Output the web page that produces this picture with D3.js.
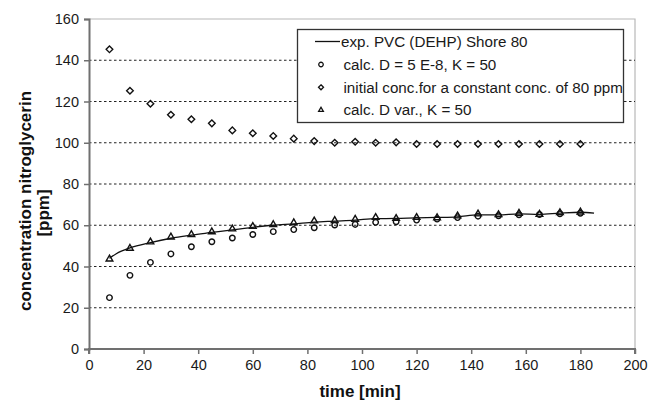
<!DOCTYPE html>
<html>
<head>
<meta charset="utf-8">
<script src="https://cdn.jsdelivr.net/npm/d3@7"></script>
<style>
  html, body { margin: 0; padding: 0; background: #fff; }
  svg { display: block; font-family: "Liberation Sans", Arial, sans-serif; }
</style>
</head>
<body>
<svg id="chart" width="651" height="401"></svg>
<script>
// ---- data ----
const times = [7.5, 15, 22.5, 30, 37.5, 45, 52.5, 60, 67.5, 75, 82.5, 90, 97.5, 105, 112.5, 120, 127.5, 135, 142.5, 150, 157.5, 165, 172.5, 180];
const calcConstD = [24.9, 35.7, 42.0, 46.1, 49.6, 52.0, 53.8, 55.5, 56.9, 57.9, 58.8, 60.1, 60.4, 61.4, 61.7, 62.5, 63.0, 63.7, 64.4, 64.6, 65.1, 65.2, 65.6, 65.8];
const initialConc = [145.3, 125.2, 118.9, 113.6, 111.4, 109.4, 106.0, 104.6, 103.3, 102.0, 100.8, 100.0, 100.5, 100.0, 100.2, 99.4, 99.4, 99.4, 99.4, 99.4, 99.4, 99.4, 99.4, 99.4];
const calcVarD = [43.6, 48.8, 51.9, 54.3, 55.5, 56.8, 58.2, 59.4, 60.3, 61.2, 62.1, 62.3, 62.9, 63.8, 63.3, 63.8, 63.6, 64.5, 65.5, 65.1, 65.8, 65.3, 66.1, 66.4];
const expTimes = [7.5, 10, 15, 22.5, 30, 37.5, 45, 52.5, 60, 67.5, 75, 82.5, 90, 97.5, 105, 112.5, 120, 127.5, 135, 142.5, 150, 157.5, 165, 172.5, 180, 185];
const expValues = [44.0, 46.2, 49.0, 51.6, 53.7, 55.2, 56.5, 57.8, 59.0, 60.0, 60.7, 61.5, 62.0, 62.5, 63.2, 63.3, 63.6, 63.8, 64.1, 65.0, 65.0, 65.5, 65.3, 65.9, 66.3, 65.9];
const xTicks = [0, 20, 40, 60, 80, 100, 120, 140, 160, 180, 200];
const yTicks = [0, 20, 40, 60, 80, 100, 120, 140, 160];
const gridValues = [20, 40, 60, 80, 100, 120, 140];
const legendLabels = ["exp. PVC (DEHP) Shore 80", "calc. D = 5 E-8, K = 50", "initial conc.for a constant conc. of 80 ppm", "calc. D var., K = 50"];

// ---- layout ----
const L = 89, R = 635, T = 19, B = 349;
const svg = d3.select("#chart");
const x = d3.scaleLinear().domain([0, 200]).range([L, R]);
const y = d3.scaleLinear().domain([0, 160]).range([B, T]);

// plot frame (top/right light)
svg.append("path")
  .attr("d", `M${L},${T}H${R}V${B}`)
  .attr("fill", "none").attr("stroke", "#b8b8b8").attr("stroke-width", 1.2);

// gridlines
svg.append("g").selectAll("line").data(gridValues).join("line")
  .attr("x1", L).attr("x2", R)
  .attr("y1", d => y(d)).attr("y2", d => y(d))
  .attr("stroke", "#222").attr("stroke-width", 1.2)
  .attr("stroke-dasharray", "2.5,2.5");

// axes
const xAxis = svg.append("g").attr("transform", `translate(0,${B})`)
  .call(d3.axisBottom(x).tickValues(xTicks).tickSize(5).tickPadding(6));
const yAxis = svg.append("g").attr("transform", `translate(${L},0)`)
  .call(d3.axisLeft(y).tickValues(yTicks).tickSize(5).tickPadding(5));
[xAxis, yAxis].forEach(g => {
  g.select(".domain").attr("stroke", "#707070").attr("stroke-width", 2);
  g.selectAll(".tick line").attr("stroke", "#707070").attr("stroke-width", 1.5);
  g.selectAll(".tick text").attr("fill", "#1a1a1a")
    .style("font-size", "14.5px").style("font-family", '"Liberation Sans", Arial, sans-serif');
});
xAxis.select(".domain").attr("d", `M${L},5V0H${R}V5`);

// exp line
svg.append("path")
  .datum(expTimes.map((t, i) => [t, expValues[i]]))
  .attr("fill", "none").attr("stroke", "#111").attr("stroke-width", 1.3)
  .attr("d", d3.line().x(d => x(d[0])).y(d => y(d[1])).curve(d3.curveMonotoneX));

// markers
const symCircle = d3.symbol().type(d3.symbolCircle).size(24);
const symDiamond = d3.symbol().type(d3.symbolDiamond2 || d3.symbolDiamond).size(28);
const symTriangle = d3.symbol().type(d3.symbolTriangle2 || d3.symbolTriangle).size(32);

function drawSeries(vals, sym) {
  svg.append("g").selectAll("path").data(vals).join("path")
    .attr("transform", (d, i) => `translate(${x(times[i])},${y(d)})`)
    .attr("d", sym)
    .attr("fill", "none").attr("stroke", "#111").attr("stroke-width", 1.4);
}
drawSeries(calcConstD, symCircle);
drawSeries(initialConc, symDiamond);
drawSeries(calcVarD, symTriangle);

// legend
const lg = svg.append("g");
lg.append("rect").attr("x", 297.5).attr("y", 29.5).attr("width", 326).attr("height", 93)
  .attr("fill", "#fff").attr("stroke", "#333").attr("stroke-width", 1.3);
const rowY = [41.5, 64.5, 87.3, 110];
lg.append("line").attr("x1", 315).attr("x2", 340).attr("y1", rowY[0]).attr("y2", rowY[0])
  .attr("stroke", "#111").attr("stroke-width", 1.3);
const legendSyms = [d3.symbolCircle, d3.symbolDiamond2 || d3.symbolDiamond, d3.symbolTriangle2 || d3.symbolTriangle];
legendSyms.forEach((s, i) => {
  lg.append("path").attr("transform", `translate(321,${rowY[i + 1]})`)
    .attr("d", d3.symbol().type(s).size(16)()).attr("fill", "none").attr("stroke", "#111").attr("stroke-width", 1.3);
});
lg.selectAll("text.lab").data(legendLabels).join("text")
  .attr("class", "lab")
  .attr("x", (d, i) => i === 0 ? 341 : 343.5)
  .attr("y", (d, i) => rowY[i])
  .attr("dy", "0.35em")
  .attr("fill", "#1a1a1a")
  .style("font-size", "15.2px")
  .text(d => d);

// axis titles
svg.append("text").attr("x", 360).attr("y", 397)
  .attr("text-anchor", "middle").attr("font-weight", "bold").style("font-size", "17px")
  .attr("fill", "#111").text("time [min]");
svg.append("text").attr("transform", "translate(25,201) rotate(-90)")
  .attr("text-anchor", "middle").attr("dy", "0.35em").attr("font-weight", "bold").style("font-size", "17px")
  .attr("fill", "#111").text("concentration nitroglycerin");
svg.append("text").attr("transform", "translate(43,213) rotate(-90)")
  .attr("text-anchor", "middle").attr("dy", "0.35em").attr("font-weight", "bold").style("font-size", "17px")
  .attr("fill", "#111").text("[ppm]");
</script>
</body>
</html>
